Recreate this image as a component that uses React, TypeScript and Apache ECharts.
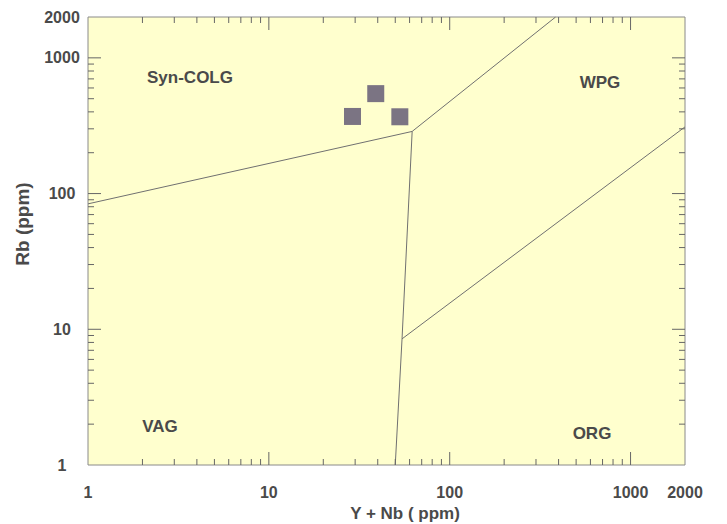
import React, { useEffect, useRef } from "react";
import * as echarts from "echarts";

// Sample points (Y + Nb, Rb) in ppm
const sampleX = [29, 39, 53];
const sampleY = [370, 545, 368];

// Discrimination boundaries (Pearce-type diagram)
const synColVagLine = [[1, 84], [62, 287]];
const wpgSynColLine = [[62, 287], [385, 2000]];
const vagWpgLine = [[62, 287], [54.5, 8.5], [50, 1]];
const orgWpgLine = [[54.5, 8.5], [2000, 310]];

// Region names
const regionNames = ["Syn-COLG", "WPG", "VAG", "ORG"];

// Axis ticks / labels
const tickValues = [2, 3, 4, 5, 6, 7, 8, 9, 10, 20, 30, 40, 50, 60, 70, 80, 90, 100, 200, 300, 400, 500, 600, 700, 800, 900, 1000];
const majorTicks = [10, 100, 1000];
const xTickLabels = [1, 10, 100, 1000, 2000];
const yTickLabels = [1, 10, 100, 1000, 2000];

const AXIS_MIN = 1;
const AXIS_MAX = 2000;
const TEXT = "#4a4a4a";
const FONT = "Liberation Sans, Arial, sans-serif";

export default function App() {
  const ref = useRef<HTMLDivElement>(null);

  useEffect(() => {
    if (!ref.current) return;
    const chart = echarts.init(ref.current, null, { renderer: "svg" });

    const tickSeries = (dir: "x" | "y") => ({
      type: "custom",
      coordinateSystem: "cartesian2d",
      silent: true,
      clip: false,
      z: 5,
      data: tickValues.map((v) => (dir === "x" ? [v, AXIS_MIN] : [AXIS_MIN, v])),
      renderItem: (params: any, api: any) => {
        const cs = params.coordSys;
        const v = api.value(dir === "x" ? 0 : 1);
        const len = majorTicks.includes(v) ? 13 : 6;
        const st = { stroke: "#666", lineWidth: 1 };
        if (dir === "x") {
          const px = api.coord([v, AXIS_MIN])[0];
          const b = cs.y + cs.height;
          const t = cs.y;
          return {
            type: "group",
            children: [
              { type: "line", shape: { x1: px, y1: b, x2: px, y2: b - len }, style: st },
              { type: "line", shape: { x1: px, y1: t, x2: px, y2: t + len }, style: st },
            ],
          };
        }
        const py = api.coord([AXIS_MIN, v])[1];
        const l = cs.x;
        const r = cs.x + cs.width;
        return {
          type: "group",
          children: [
            { type: "line", shape: { x1: l, y1: py, x2: l + len, y2: py }, style: st },
            { type: "line", shape: { x1: r, y1: py, x2: r - len, y2: py }, style: st },
          ],
        };
      },
    });

    const labelSeries = (dir: "x" | "y") => ({
      type: "custom",
      coordinateSystem: "cartesian2d",
      silent: true,
      clip: false,
      z: 6,
      data: (dir === "x" ? xTickLabels : yTickLabels).map((v) => (dir === "x" ? [v, AXIS_MIN] : [AXIS_MIN, v])),
      renderItem: (params: any, api: any) => {
        const cs = params.coordSys;
        const v = dir === "x" ? api.value(0) : api.value(1);
        let x: number, y: number;
        if (dir === "x") {
          x = api.coord([v, AXIS_MIN])[0];
          y = cs.y + cs.height + 27;
        } else {
          x = cs.x - 26;
          y = api.coord([AXIS_MIN, v])[1];
        }
        return {
          type: "text",
          style: {
            text: String(v),
            x,
            y,
            fill: TEXT,
            fontSize: 16,
            fontWeight: "bold",
            fontFamily: FONT,
            align: "center",
            verticalAlign: "middle",
          },
        };
      },
    });

    const boundary = (name: string, data: number[][]) => ({
      name,
      type: "line",
      data,
      showSymbol: false,
      symbol: "none",
      silent: true,
      z: 3,
      lineStyle: { color: "#707070", width: 1 },
    });

    const regionPos = [
      [190, 77],
      [600, 82],
      [160, 426],
      [592, 433],
    ];

    chart.setOption({
      animation: false,
      backgroundColor: "#ffffff",
      grid: {
        left: 88,
        right: 42,
        top: 17,
        bottom: 59,
        show: true,
        backgroundColor: "#FFFFCE",
        borderColor: "#8a8a8a",
        borderWidth: 1,
      },
      xAxis: {
        type: "log",
        logBase: 10,
        min: AXIS_MIN,
        max: AXIS_MAX,
        axisLine: { show: false },
        axisTick: { show: false },
        axisLabel: { show: false },
        splitLine: { show: false },
      },
      yAxis: {
        type: "log",
        logBase: 10,
        min: AXIS_MIN,
        max: AXIS_MAX,
        axisLine: { show: false },
        axisTick: { show: false },
        axisLabel: { show: false },
        splitLine: { show: false },
      },
      graphic: [
        ...regionNames.map((n, i) => ({
          type: "text",
          x: regionPos[i][0],
          y: regionPos[i][1],
          style: {
            text: n,
            fill: TEXT,
            fontSize: 17,
            fontWeight: "bold",
            fontFamily: FONT,
            align: "center",
            verticalAlign: "middle",
          },
        })),
        {
          type: "text",
          x: 405,
          y: 513,
          style: {
            text: "Y + Nb ( ppm)",
            fill: TEXT,
            fontSize: 17,
            fontWeight: "bold",
            fontFamily: FONT,
            align: "center",
            verticalAlign: "middle",
          },
        },
        {
          type: "text",
          x: 22,
          y: 224,
          rotation: Math.PI / 2,
          style: {
            text: "Rb (ppm)",
            fill: TEXT,
            fontSize: 19,
            fontWeight: "bold",
            fontFamily: FONT,
            align: "center",
            verticalAlign: "middle",
          },
        },
      ],
      series: [
        boundary("Syn-COLG / VAG", synColVagLine),
        boundary("WPG / Syn-COLG", wpgSynColLine),
        boundary("VAG / WPG", vagWpgLine),
        boundary("ORG / WPG", orgWpgLine),
        {
          name: "Samples",
          type: "scatter",
          symbol: "rect",
          symbolSize: 17,
          z: 4,
          itemStyle: { color: "#5a5170" },
          data: sampleX.map((x, i) => [x, sampleY[i]]),
        },
        tickSeries("x"),
        tickSeries("y"),
        labelSeries("x"),
        labelSeries("y"),
      ],
    });

    return () => chart.dispose();
  }, []);

  return (
    <div
      ref={ref}
      style={{ position: "fixed", left: 0, top: 0, width: 727, height: 524 }}
    />
  );
}
